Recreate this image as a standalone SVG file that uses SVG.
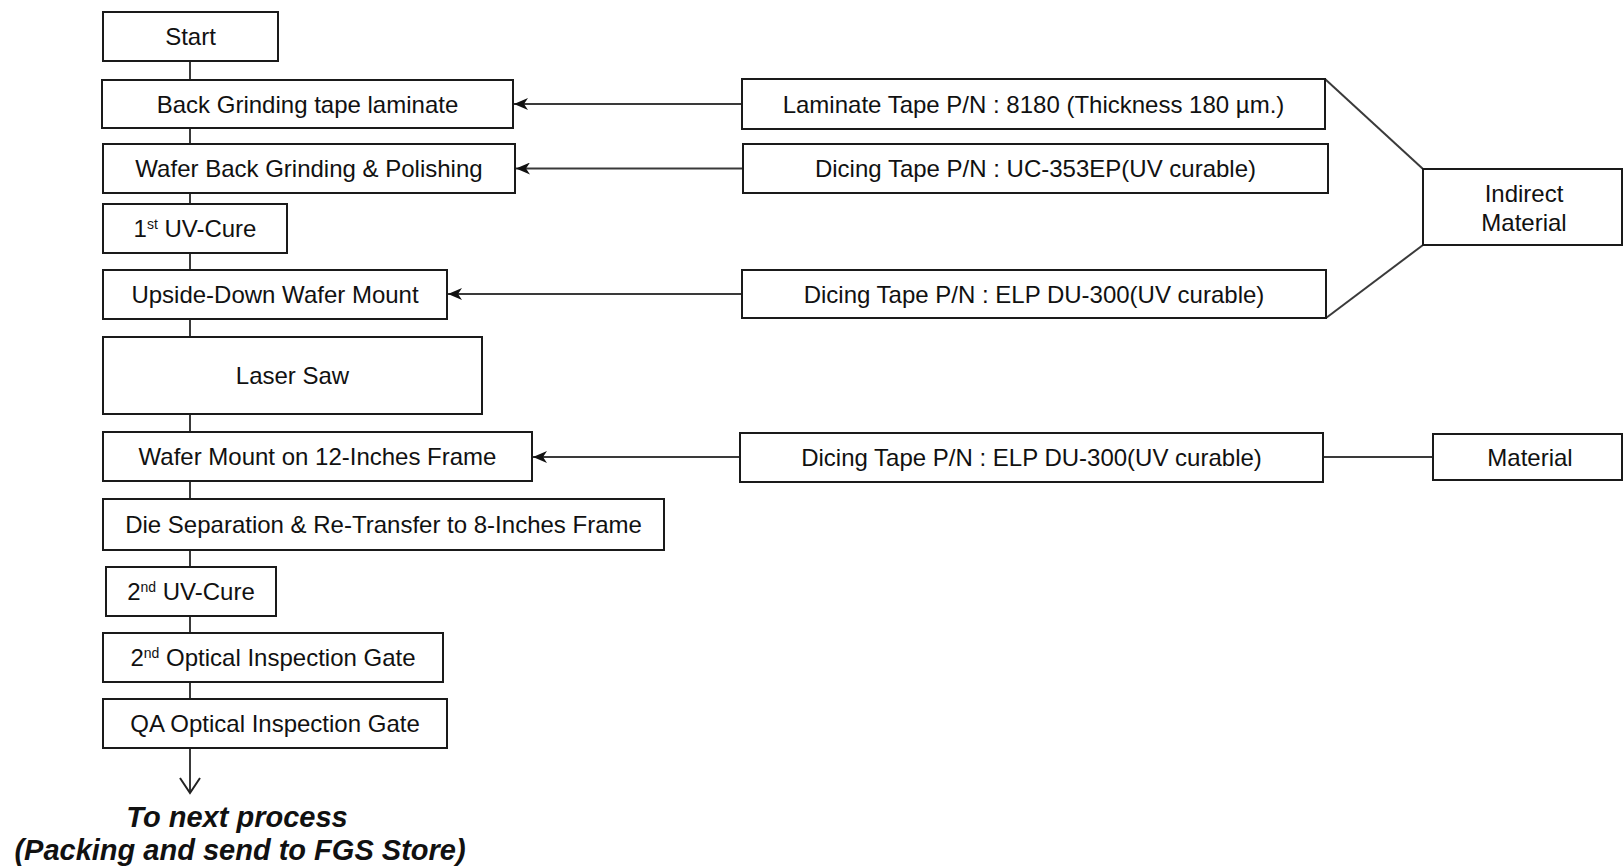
<svg xmlns="http://www.w3.org/2000/svg" width="1624" height="868" viewBox="0 0 1624 868">
<defs>
<style>
.box{fill:#fff;stroke:#1a1a1a;stroke-width:2}
.t{font-family:"Liberation Sans",Arial,sans-serif;font-size:24px;fill:#111;text-anchor:middle}
.sup{font-size:14px}
.c{stroke:#3a3a3a;stroke-width:2;fill:none}
.end{font-family:"Liberation Sans",Arial,sans-serif;font-size:29px;font-weight:bold;font-style:italic;fill:#111;text-anchor:middle}
</style>
<marker id="arr" viewBox="0 0 14 12" refX="14" refY="6" markerWidth="14" markerHeight="12" markerUnits="userSpaceOnUse" orient="auto">
<path d="M0,0 L14,6 L0,12 L4,6 Z" fill="#111"/>
</marker>
<marker id="open" viewBox="0 0 18 22" refX="16" refY="11" markerWidth="18" markerHeight="22" markerUnits="userSpaceOnUse" orient="auto">
<path d="M1,1 L16,11 L1,21" fill="none" stroke="#222" stroke-width="2"/>
</marker>
</defs>
<rect width="1624" height="868" fill="#fff"/>
<g id="connectors">
<line class="c" x1="190" y1="61" x2="190" y2="80"/>
<line class="c" x1="190" y1="128" x2="190" y2="144"/>
<line class="c" x1="190" y1="193" x2="190" y2="204"/>
<line class="c" x1="190" y1="253" x2="190" y2="270"/>
<line class="c" x1="190" y1="319" x2="190" y2="337"/>
<line class="c" x1="190" y1="414" x2="190" y2="432"/>
<line class="c" x1="190" y1="481" x2="190" y2="499"/>
<line class="c" x1="190" y1="550" x2="190" y2="567"/>
<line class="c" x1="190" y1="616" x2="190" y2="633"/>
<line class="c" x1="190" y1="682" x2="190" y2="699"/>
<line class="c" x1="190" y1="748" x2="190" y2="793" marker-end="url(#open)"/>
<line class="c" x1="742" y1="104" x2="514" y2="104" marker-end="url(#arr)"/>
<line class="c" x1="743" y1="168.5" x2="516" y2="168.5" marker-end="url(#arr)"/>
<line class="c" x1="742" y1="294" x2="448" y2="294" marker-end="url(#arr)"/>
<line class="c" x1="740" y1="457" x2="533" y2="457" marker-end="url(#arr)"/>
<line class="c" x1="1325" y1="79" x2="1423" y2="169"/>
<line class="c" x1="1326" y1="318" x2="1423" y2="245"/>
<line class="c" x1="1323" y1="457" x2="1433" y2="457"/>
</g>
<g id="start"><rect class="box" x="103" y="12" width="175" height="49"/><text class="t" x="190.5" y="45">Start</text></g>
<g id="bg-tape"><rect class="box" x="102" y="80" width="411" height="48"/><text class="t" x="307.5" y="112.5">Back Grinding tape laminate</text></g>
<g id="wafer-bg"><rect class="box" x="103" y="144" width="412" height="49"/><text class="t" x="309" y="177">Wafer Back Grinding &amp; Polishing</text></g>
<g id="uv1"><rect class="box" x="103" y="204" width="184" height="49"/><text class="t" x="195" y="237">1<tspan class="sup" dy="-8">st</tspan><tspan dy="8"> UV-Cure</tspan></text></g>
<g id="upside-down"><rect class="box" x="103" y="270" width="344" height="49"/><text class="t" x="275" y="303">Upside-Down Wafer Mount</text></g>
<g id="laser-saw"><rect class="box" x="103" y="337" width="379" height="77"/><text class="t" x="292.5" y="384">Laser Saw</text></g>
<g id="wafer-mount-12"><rect class="box" x="103" y="432" width="429" height="49"/><text class="t" x="317.5" y="465">Wafer Mount on 12-Inches Frame</text></g>
<g id="die-sep"><rect class="box" x="103" y="499" width="561" height="51"/><text class="t" x="383.5" y="533">Die Separation &amp; Re-Transfer to 8-Inches Frame</text></g>
<g id="uv2"><rect class="box" x="106" y="567" width="170" height="49"/><text class="t" x="191" y="600">2<tspan class="sup" dy="-8">nd</tspan><tspan dy="8"> UV-Cure</tspan></text></g>
<g id="opt2"><rect class="box" x="103" y="633" width="340" height="49"/><text class="t" x="273" y="666">2<tspan class="sup" dy="-8">nd</tspan><tspan dy="8"> Optical Inspection Gate</tspan></text></g>
<g id="qa"><rect class="box" x="103" y="699" width="344" height="49"/><text class="t" x="275" y="732">QA Optical Inspection Gate</text></g>
<g id="next"><text class="end" x="237" y="827">To next process</text><text class="end" x="240" y="860">(Packing and send to FGS Store)</text></g>
<g id="laminate-tape"><rect class="box" x="742" y="79" width="583" height="50"/><text class="t" x="1033.5" y="112.5">Laminate Tape P/N : 8180 (Thickness 180 µm.)</text></g>
<g id="dicing-uc"><rect class="box" x="743" y="144" width="585" height="49"/><text class="t" x="1035.5" y="177">Dicing Tape P/N : UC-353EP(UV curable)</text></g>
<g id="dicing-elp1"><rect class="box" x="742" y="270" width="584" height="48"/><text class="t" x="1034" y="302.5">Dicing Tape P/N : ELP DU-300(UV curable)</text></g>
<g id="dicing-elp2"><rect class="box" x="740" y="433" width="583" height="49"/><text class="t" x="1031.5" y="466">Dicing Tape P/N : ELP DU-300(UV curable)</text></g>
<g id="indirect"><rect class="box" x="1423" y="169" width="199" height="76"/><text class="t" x="1524" y="202">Indirect</text><text class="t" x="1524" y="231">Material</text></g>
<g id="material"><rect class="box" x="1433" y="434" width="189" height="46"/><text class="t" x="1530" y="465.5">Material</text></g>
</svg>
